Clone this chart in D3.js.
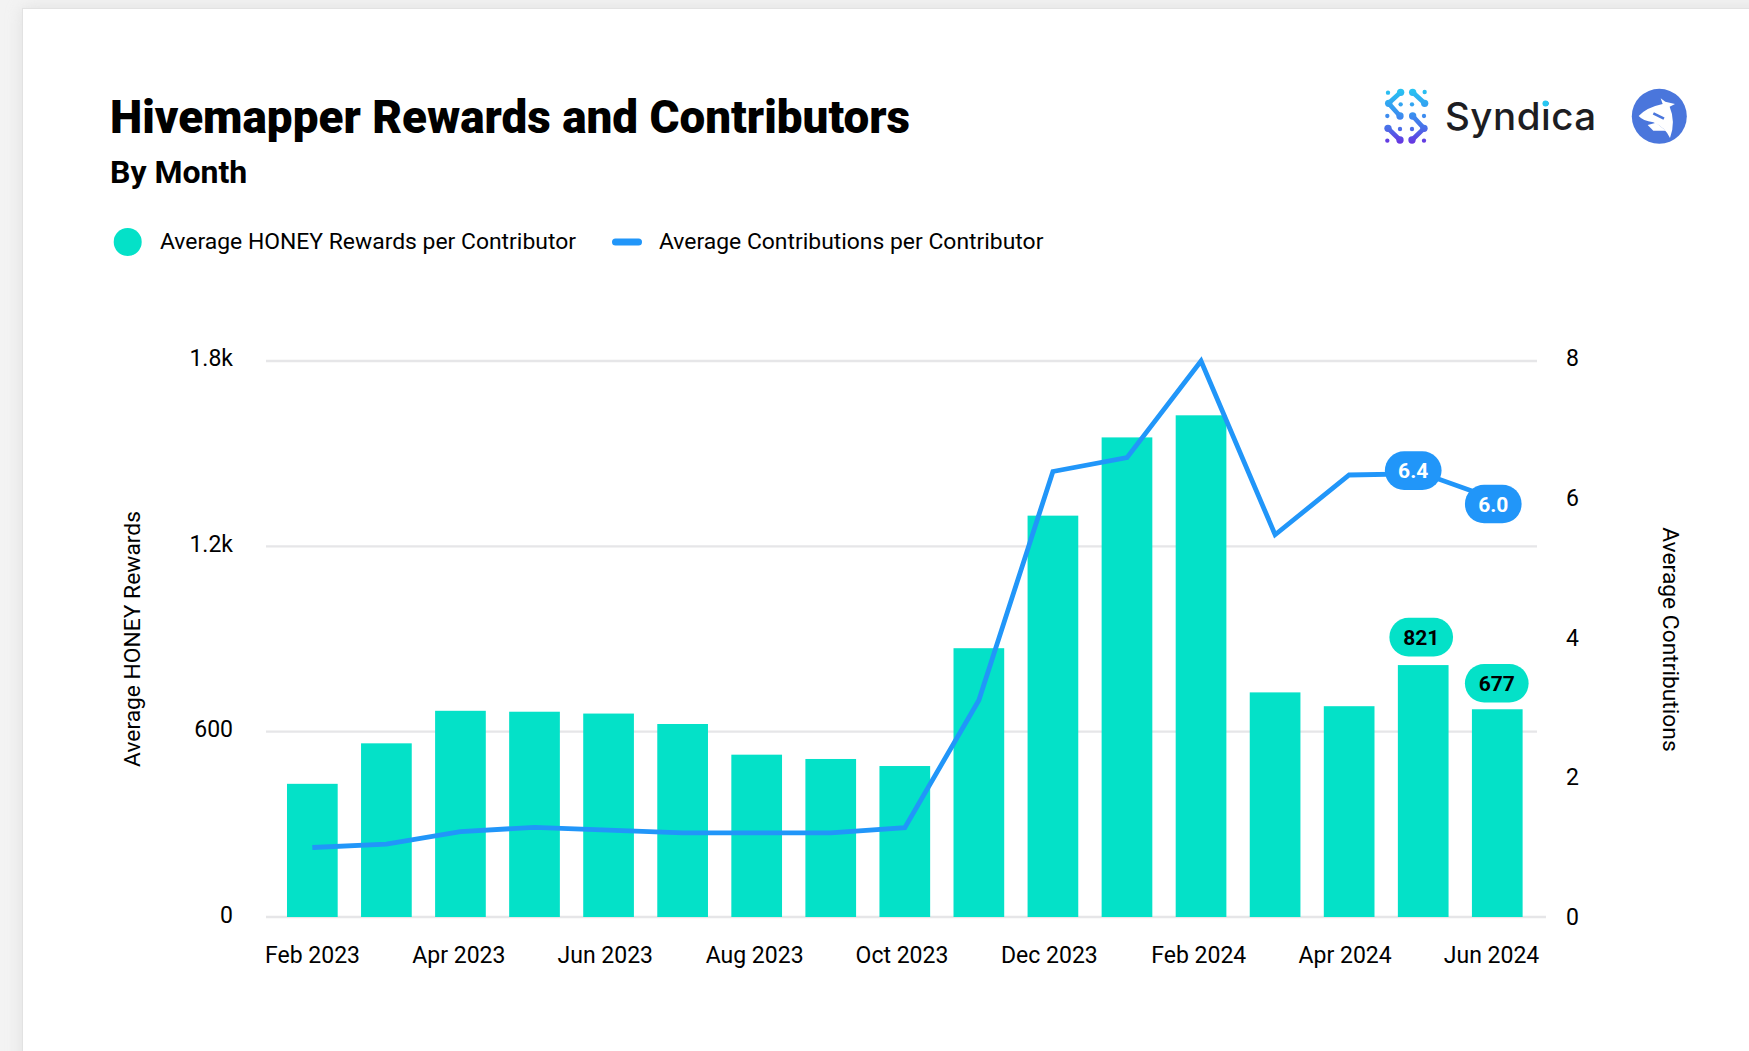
<!DOCTYPE html>
<html><head><meta charset="utf-8">
<script src="https://cdn.jsdelivr.net/npm/d3@7"></script>
<style>
html,body{margin:0;padding:0;background:#f3f3f3;overflow:hidden}
svg{display:block}
text{font-family:Roboto,sans-serif;fill:#000}
</style></head><body>
<svg id="c" width="1749" height="1051"></svg>
<script>
const months=["Feb 2023","Mar 2023","Apr 2023","May 2023","Jun 2023","Jul 2023","Aug 2023","Sep 2023","Oct 2023","Nov 2023","Dec 2023","Jan 2024","Feb 2024","Mar 2024","Apr 2024","May 2024","Jun 2024"];
const rewards=[434,566,672,669,663,629,529,515,492,876,1308,1563,1635,732,687,821,677];
const contributions=[1.0,1.05,1.23,1.29,1.25,1.21,1.21,1.21,1.285,3.12,6.41,6.61,8.0,5.5,6.36,6.38,6.0];
const xTickLabels=["Feb 2023","Apr 2023","Jun 2023","Aug 2023","Oct 2023","Dec 2023","Feb 2024","Apr 2024","Jun 2024"];
const leftTicks=[0,604,1208,1812];
const leftTickLabels=["0","600","1.2k","1.8k"];
const rightTicks=[0,2,4,6,8];
const seriesNames=["Average HONEY Rewards per Contributor","Average Contributions per Contributor"];
const axisTitles=["Average HONEY Rewards","Average Contributions"];
const rewardLabels=[[15,"821",-2,-28],[16,"677",-0.5,-26]];
const contribLabels=[[15,"6.4",-10,-3],[16,"6.0",-4,4]];
const TEAL="#04e1c8",BLUE="#2196f9";

const svg=d3.select("#c");
const defs=svg.append("defs");
const f=defs.append("filter").attr("id","sh").attr("x","-5%").attr("y","-5%").attr("width","110%").attr("height","110%");
f.append("feGaussianBlur").attr("stdDeviation",8);
svg.append("rect").attr("x",22).attr("y",8).attr("width",1800).attr("height",1100).attr("fill","#cfcfcf").attr("opacity",.55).attr("filter","url(#sh)");
svg.append("rect").attr("x",22.5).attr("y",8.5).attr("width",1800).attr("height",1100).attr("fill","#fff").attr("stroke","#e2e2e2");

const x=d3.scaleBand().domain(months).range([275.3,1534.3]).paddingInner(.3155).paddingOuter(.1578);
const xLab=d3.scalePoint().domain(xTickLabels).range([312,1491]);
const xNudge=[0,-1,-2,0,0,0,2,1,0];
const yL=d3.scaleLinear().domain([0,1812]).range([917,361]);
const yR=d3.scaleLinear().domain([0,8]).range([917,361]);

// titles
svg.append("text").attr("x",110).attr("y",132.5).attr("font-size",45.8).style("font-weight",900).text("Hivemapper Rewards and Contributors");
svg.append("text").attr("x",110).attr("y",183).attr("font-size",32).attr("font-weight",700).text("By Month");

// legend
svg.append("circle").attr("cx",127.7).attr("cy",242).attr("r",14).attr("fill",TEAL);
svg.append("text").attr("x",160).attr("y",241).attr("dy",".36em").attr("font-size",22.9).attr("fill","#111").text(seriesNames[0]);
svg.append("rect").attr("x",612).attr("y",238.5).attr("width",30).attr("height",7).attr("rx",3.5).attr("fill",BLUE);
svg.append("text").attr("x",659).attr("y",241).attr("dy",".36em").attr("font-size",22.9).attr("fill","#111").text(seriesNames[1]);

// grid
svg.append("g").selectAll("line").data(leftTicks).join("line")
  .attr("x1",266).attr("x2",d=>d===0?1546:1537).attr("y1",d=>yL(d)).attr("y2",d=>yL(d))
  .attr("stroke","#e6e6e8").attr("stroke-width",2.4);

// bars
svg.append("g").selectAll("rect").data(rewards).join("rect")
  .attr("x",(d,i)=>x(months[i])).attr("width",x.bandwidth())
  .attr("y",d=>yL(d)).attr("height",d=>yL(0)-yL(d)).attr("fill",TEAL);

// line
const line=d3.line().x((d,i)=>x(months[i])+x.bandwidth()/2).y(d=>yR(d));
svg.append("path").datum(contributions).attr("d",line).attr("fill","none")
  .attr("stroke",BLUE).attr("stroke-width",4.8).attr("stroke-linejoin","miter").attr("stroke-miterlimit",8);

// axes
const ax=(g)=>{g.select(".domain").remove();g.selectAll(".tick line").remove();
  g.selectAll("text").attr("font-size",23).style("font-family","Roboto,sans-serif").attr("fill","#000");};
svg.append("g").attr("transform","translate(0,946)")
  .call(d3.axisBottom(xLab).tickSize(0).tickPadding(0)).call(ax)
  .selectAll("text").attr("y",9).attr("dy",".36em").attr("x",(d,i)=>xNudge[i]);
svg.append("g").attr("transform","translate(233,0)")
  .call(d3.axisLeft(yL).tickValues(leftTicks).tickFormat((d,i)=>leftTickLabels[i]).tickSize(0).tickPadding(0)).call(ax)
  .selectAll("text").attr("dy",".36em").attr("y",d=>d===0?-2.5:-3.5);
svg.append("g").attr("transform","translate(1566,0)")
  .call(d3.axisRight(yR).tickValues(rightTicks).tickSize(0).tickPadding(0)).call(ax)
  .selectAll("text").attr("dy",".36em").attr("y",d=>-1-d*.3);

// axis titles
svg.append("text").attr("transform","translate(131.5,639) rotate(-90)").attr("text-anchor","middle").attr("dy",".36em").attr("font-size",22.8).attr("fill","#222").text(axisTitles[0]);
svg.append("text").attr("transform","translate(1671.5,639.5) rotate(90)").attr("text-anchor","middle").attr("dy",".36em").attr("font-size",22.8).attr("fill","#222").text(axisTitles[1]);

// pills
function pill(cx,cy,w,txt,bg,fg){
  const g=svg.append("g").attr("transform",`translate(${cx},${cy})`);
  g.append("rect").attr("x",-w/2).attr("y",-19.3).attr("width",w).attr("height",38.6).attr("rx",19.3).attr("fill",bg);
  g.append("text").attr("text-anchor","middle").attr("dy",".36em").attr("font-size",21).attr("font-weight",700).style("fill",fg).text(txt);
}
contribLabels.forEach(([i,t,dx,dy])=>pill(x(months[i])+x.bandwidth()/2+dx,yR(contributions[i])+dy,56.7,t,BLUE,"#fff"));
rewardLabels.forEach(([i,t,dx,dy])=>pill(x(months[i])+x.bandwidth()/2+dx,yL(rewards[i])+dy,63.7,t,TEAL,"#000"));

// Syndica logo
const gr=defs.append("linearGradient").attr("id","sg").attr("gradientUnits","userSpaceOnUse").attr("x1",0).attr("y1",115).attr("x2",0).attr("y2",285);
[[0,"#27c6f2"],[.45,"#3a90f0"],[.7,"#4a6fe8"],[1,"#6a2de0"]].forEach(([o,c])=>gr.append("stop").attr("offset",o).attr("stop-color",c));
const lg=svg.append("g").attr("transform","translate(1340,50) scale(.3333)");
[[144,128],[254,126],[182,163],[216,163],[142,198],[252,198],[180,237],[216,237],[142,272],[252,272]].forEach(([a,b])=>
  lg.append("circle").attr("cx",a).attr("cy",b).attr("r",6.5).attr("fill","url(#sg)"));
[[[182,127],[146,160],[180,198]],[[218,127],[254,160]],[[218,198],[252,235],[216,270]],[[144,235],[180,270]]].forEach(p=>
  lg.append("path").attr("d",d3.line()(p)).attr("fill","none").attr("stroke","url(#sg)").attr("stroke-width",14).attr("stroke-linecap","round").attr("stroke-linejoin","round"));
[[182,127],[218,127],[146,160],[254,160],[180,198],[218,198],[144,235],[252,235],[180,270],[216,270]].forEach(([a,b])=>
  lg.append("circle").attr("cx",a).attr("cy",b).attr("r",11).attr("fill","url(#sg)"));
svg.append("text").attr("x",1445).attr("y",130).style("font-family","Inter,sans-serif").style("font-weight",500).attr("font-size",38.5).style("letter-spacing","0.5px").style("fill","#1d1d22").text("Syndica");
svg.append("circle").attr("cx",1545.5).attr("cy",103.5).attr("r",3).attr("fill","#27c6f2");

// Hivemapper logo
svg.append("circle").attr("cx",1659.3).attr("cy",116.3).attr("r",27.5).attr("fill","#4a76dc");
const hg=svg.append("g").attr("transform","translate(1620,80) scale(.3333)");
hg.append("path").attr("fill","#fff").attr("d","M56,108 Q80,82 128,72 L122,55 L136,65 L165,72 L149,80 Q168,125 150,174 Q135,142 100,127 Q68,122 56,108 Z");
hg.append("path").attr("fill","#fff").attr("d","M83,135 L108,128 L138,152 L100,152 Z");
hg.append("path").attr("stroke","#4a76dc").attr("stroke-width",8).attr("fill","none").attr("d","M100,100 L132,116");
</script></body></html>
